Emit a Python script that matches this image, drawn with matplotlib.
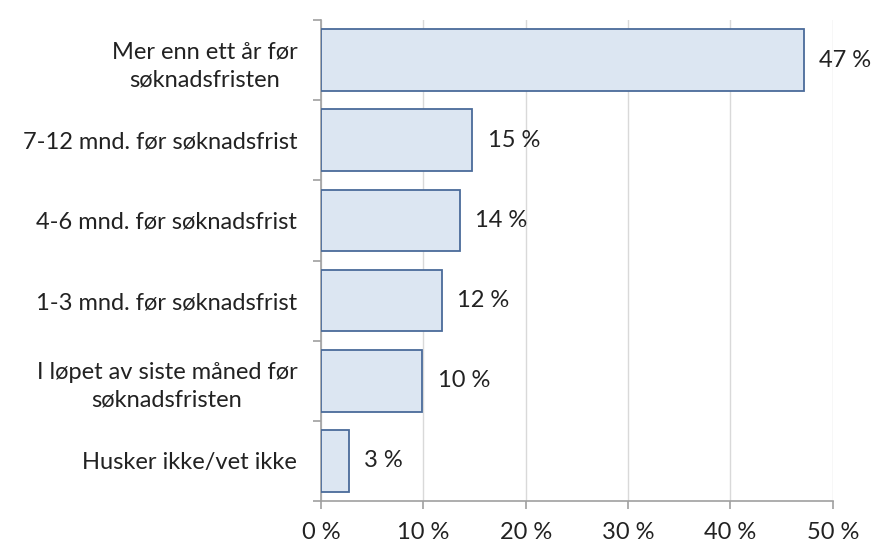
import matplotlib.pyplot as plt
import numpy as np

categories = ['Mer enn ett år før\nsøknadsfristen',
              '7-12 mnd. før søknadsfrist',
              '4-6 mnd. før søknadsfrist',
              '1-3 mnd. før søknadsfrist',
              'I løpet av siste måned før\nsøknadsfristen',
              'Husker ikke/vet ikke']
values = [47.2, 14.8, 13.6, 11.8, 9.9, 2.7]
value_labels = ['47 %', '15 %', '14 %', '12 %', '10 %', '3 %']
xticks = [0, 10, 20, 30, 40, 50]

plt.rcParams['font.family'] = ['Lato', 'DejaVu Sans']
fs = 17

fig = plt.figure(figsize=(8.72, 5.45), dpi=100)
ax = fig.add_axes([0.368, 0.081, 0.587, 0.882])

y = np.arange(len(categories))
ax.barh(y, values, height=0.77, color='#dce6f2', edgecolor='#4a6b9a', linewidth=1.3, zorder=3)

for yi, v, lab in zip(y, values, value_labels):
    ax.annotate(lab, (v, yi), xytext=(11, 0), textcoords='offset points',
                va='center', ha='left', fontsize=fs, color='#222222')

ax.set_xlim(0, 50)
ax.set_ylim(len(categories) - 0.5, -0.5)
ax.set_xticks(xticks)
ax.set_xticklabels([f'{t} %' for t in xticks], fontsize=fs, color='#222222')
ax.xaxis.grid(True, color='#d9d9d9', linewidth=1, zorder=0)

ax.set_yticks(np.arange(len(categories) + 1) - 0.5)
ax.set_yticklabels([])
ax.set_yticks(y, minor=True)
ax.set_yticklabels(categories, minor=True, fontsize=fs, color='#222222',
                   multialignment='center', linespacing=1.4)
ax.tick_params(axis='y', which='minor', length=0, pad=17)
ax.tick_params(axis='y', which='major', length=6, color='#a0a0a0', width=1.2)
ax.tick_params(axis='x', length=6, color='#a0a0a0', width=1.2, pad=9)

for s in ['top', 'right']:
    ax.spines[s].set_visible(False)
for s in ['left', 'bottom']:
    ax.spines[s].set_color('#a0a0a0')
    ax.spines[s].set_linewidth(1.2)

fig.savefig('out.png', dpi=100)
